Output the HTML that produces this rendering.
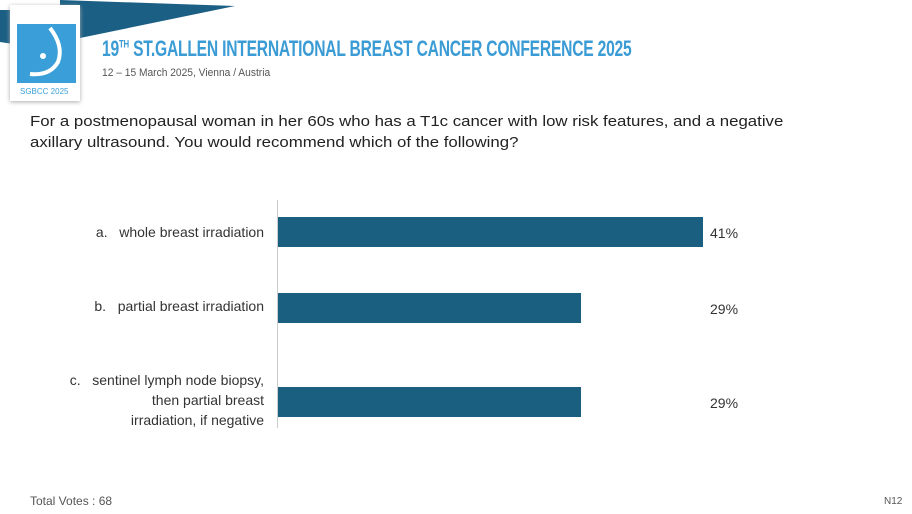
<!DOCTYPE html>
<html><head><style>
body{margin:0;width:912px;height:514px;background:#fff;position:relative;overflow:hidden;font-family:"Liberation Sans",sans-serif}
.abs{position:absolute}
.lbl{position:absolute;right:648px;text-align:right;font-size:14px;color:#333;line-height:20px}
.bar{position:absolute;left:278px;height:30px;background:#1a5f80}
.pct{position:absolute;left:710px;font-size:14px;color:#333}
</style></head><body>
<svg class="abs" style="left:0;top:0" width="400" height="110">
<polygon points="60,0 235,6 80,38 60,38" fill="#1b5f85"/>
<polygon points="0,10 20,10 20,45 0,42" fill="#1b5f85"/>
<rect x="10" y="5" width="70" height="96" fill="#fff" style="filter:drop-shadow(0 1px 2px #aaa)"/>
<rect x="17" y="24" width="59" height="59" fill="#3a9fd8"/>
<path d="M50,28 Q64,46 58,62 Q50,76 30,74" stroke="#fff" stroke-width="4" fill="none"/>
<circle cx="43" cy="56" r="3" fill="#fff"/>
<text x="20" y="94" font-size="8" fill="#3a9fd8" font-family="Liberation Sans">SGBCC 2025</text>
</svg>
<div class="abs" style="left:102px;top:36px;font-size:22px;font-weight:bold;color:#3a9bd5;transform:scaleX(0.71);transform-origin:left;white-space:nowrap;letter-spacing:-0.3px">19<sup style="font-size:11px">TH</sup> ST.GALLEN INTERNATIONAL BREAST CANCER CONFERENCE 2025</div>
<div class="abs" style="left:102px;top:67px;font-size:11px;color:#555;transform:scaleX(0.93);transform-origin:left;white-space:nowrap">12 – 15 March 2025, Vienna / Austria</div>
<div class="abs" style="left:30px;top:111px;font-size:15px;color:#222;line-height:21px;white-space:nowrap;transform:scaleX(1.12);transform-origin:left">For a postmenopausal woman in her 60s who has a T1c cancer with low risk features, and a negative<br>axillary ultrasound. You would recommend which of the following?</div>
<div class="abs" style="left:277px;top:200px;width:1px;height:228px;background:#ccc"></div>
<div class="lbl" style="top:222px">a.&nbsp;&nbsp;&nbsp;whole breast irradiation</div>
<div class="lbl" style="top:296px">b.&nbsp;&nbsp;&nbsp;partial breast irradiation</div>
<div class="lbl" style="top:370px;text-align:right">c.&nbsp;&nbsp;&nbsp;sentinel lymph node biopsy,<br>then partial breast<br>irradiation, if negative</div>
<div class="bar" style="top:217px;width:425px"></div>
<div class="bar" style="top:293px;width:303px"></div>
<div class="bar" style="top:387px;width:303px"></div>
<div class="pct" style="top:225px">41%</div>
<div class="pct" style="top:301px">29%</div>
<div class="pct" style="top:395px">29%</div>
<div class="abs" style="left:30px;top:494px;font-size:12px;color:#555">Total Votes : 68</div>
<div class="abs" style="left:884px;top:496px;font-size:10px;color:#555">N12</div>
</body></html>
